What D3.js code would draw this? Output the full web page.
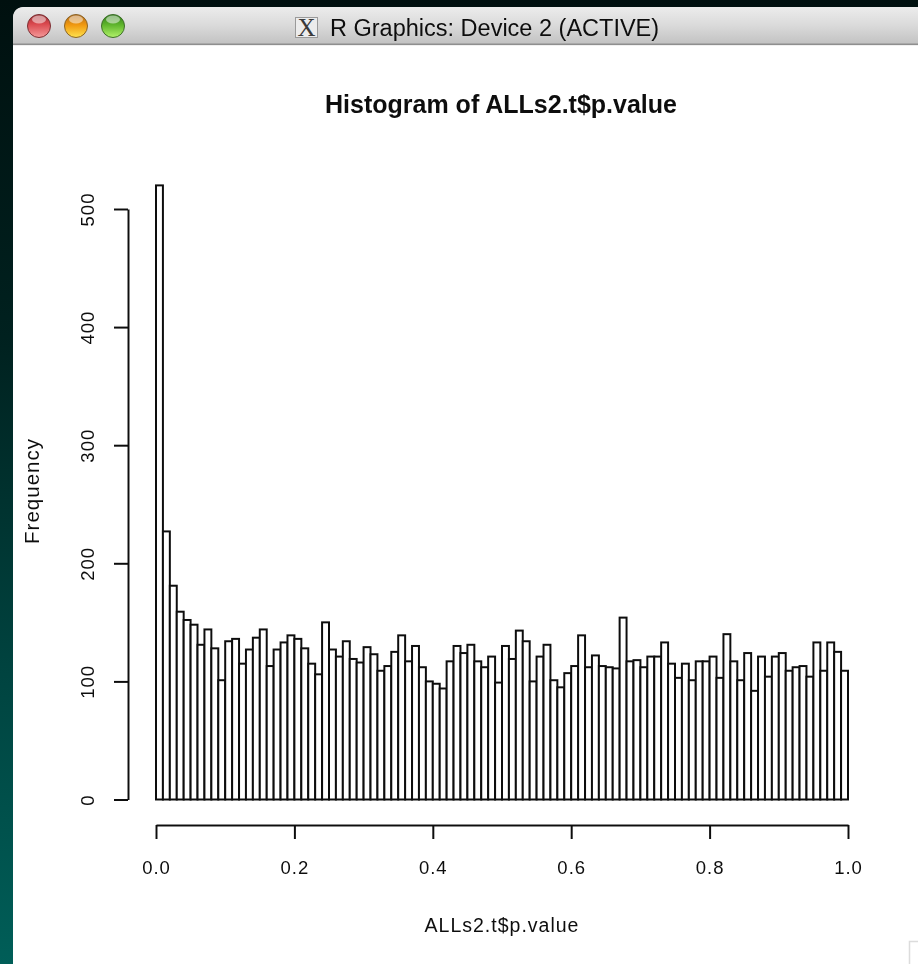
<!DOCTYPE html>
<html>
<head>
<meta charset="utf-8">
<script src="https://cdn.jsdelivr.net/npm/d3@7"></script>
<style>
  html, body { margin: 0; padding: 0; background: #00100f; overflow: hidden; }
  svg { display: block; }
  text { font-family: "Liberation Sans", sans-serif; fill: #111111; }
</style>
</head>
<body>
<div id="my_dataviz"></div>
<script>
// counts per 0.01 wide bin
var counts = [
  520, 227, 181, 159, 152, 148, 131, 144, 128, 101,
  134, 136, 115, 127, 137, 144, 113, 127, 133, 139,
  136, 128, 115, 106, 150, 127, 121, 134, 119, 116,
  129, 123, 109, 113, 125, 139, 117, 130, 112, 100,
  98, 94, 117, 130, 124, 131, 117, 112, 121, 99,
  130, 119, 143, 134, 100, 121, 131, 101, 95, 107,
  113, 139, 112, 122, 113, 112, 111, 154, 117, 118,
  112, 121, 121, 133, 115, 103, 115, 101, 117, 117,
  121, 103, 140, 117, 101, 124, 92, 121, 104, 121,
  124, 109, 112, 113, 104, 133, 109, 133, 125, 109
];
var binWidth = 0.01;
var xTicks = [0, 0.2, 0.4, 0.6, 0.8, 1];
var yTicks = [0, 100, 200, 300, 400, 500];

var chartTitle = "Histogram of ALLs2.t$p.value";
var xTitle = "ALLs2.t$p.value";
var yTitle = "Frequency";
var windowTitle = "R Graphics: Device 2 (ACTIVE)";

var width = 918, height = 964;

var svg = d3.select("#my_dataviz")
  .append("svg")
  .attr("width", width)
  .attr("height", height);

var defs = svg.append("defs");

function gradient(id, stops) {
  var g = defs.append("linearGradient")
    .attr("id", id)
    .attr("x1", 0).attr("y1", 0)
    .attr("x2", 0).attr("y2", 1);
  stops.forEach(function(s) {
    g.append("stop").attr("offset", s[0]).attr("stop-color", s[1]);
  });
}
gradient("desktop", [[0, "#00100f"], [0.35, "#00211f"], [0.7, "#004440"], [1, "#005e58"]]);
gradient("titlebar", [[0, "#ececec"], [0.5, "#dadada"], [1, "#c2c2c2"]]);
gradient("red", [[0, "#9c2f33"], [0.4, "#d9474d"], [1, "#f59a9a"]]);
gradient("orange", [[0, "#b06a1c"], [0.45, "#f0980f"], [1, "#ffe34f"]]);
gradient("green", [[0, "#2f7a1c"], [0.45, "#5fb52c"], [1, "#b2f36a"]]);

var soft = defs.append("filter").attr("id", "soft");
soft.append("feGaussianBlur").attr("stdDeviation", 0.45);

// desktop and window
svg.append("rect").attr("width", width).attr("height", height).attr("fill", "url(#desktop)");
svg.append("path")
  .attr("d", "M13,964 V19 Q13,7 25,7 H918 V964 Z")
  .attr("fill", "#ffffff");
svg.append("path")
  .attr("d", "M13,44 V19 Q13,7 25,7 H918 V44 Z")
  .attr("fill", "url(#titlebar)");
svg.append("rect").attr("x", 13).attr("y", 43.5).attr("width", 905).attr("height", 1.5).attr("fill", "#8f8f8f");
svg.append("rect").attr("x", 13).attr("y", 45).attr("width", 905).attr("height", 1).attr("fill", "#f0f0f0");

var lights = [["red", 39, "#7a3034"], ["orange", 76, "#8a6428"], ["green", 113, "#3f6e2c"]];
lights.forEach(function(l) {
  svg.append("circle")
    .attr("cx", l[1]).attr("cy", 26).attr("r", 11.5)
    .attr("fill", "url(#" + l[0] + ")")
    .attr("stroke", l[2]).attr("stroke-width", 1);
  svg.append("ellipse")
    .attr("cx", l[1]).attr("cy", 19.5).attr("rx", 7).attr("ry", 4)
    .attr("fill", "#ffffff").attr("opacity", 0.5);
});

// X11 proxy icon
svg.append("rect")
  .attr("x", 295.5).attr("y", 17.5).attr("width", 22).attr("height", 20)
  .attr("fill", "#ececec").attr("stroke", "#9a9a9a");
svg.append("text")
  .attr("x", 306.5).attr("y", 36)
  .attr("text-anchor", "middle")
  .style("font-family", "'Liberation Serif', serif")
  .style("font-size", "25px")
  .style("fill", "#3a3a3a")
  .text("X");
svg.append("text")
  .attr("x", 330).attr("y", 35.5)
  .attr("filter", "url(#soft)")
  .style("font-size", "23.5px")
  .text(windowTitle);

// resize grip corner, bottom right
svg.append("path")
  .attr("d", "M909.5,964 V941.5 H918")
  .attr("fill", "none")
  .attr("stroke", "#dcdcdc")
  .attr("stroke-width", 1.5);

// plot
var x = d3.scaleLinear().domain([0, 1]).range([156, 848]);
var y = d3.scaleLinear().domain([0, 500]).range([799.5, 209]);

var plot = svg.append("g").attr("filter", "url(#soft)");

plot.selectAll("rect.bar")
  .data(counts)
  .enter()
  .append("rect")
  .attr("class", "bar")
  .attr("x", function(d, i) { return x(i * binWidth); })
  .attr("y", function(d) { return y(d); })
  .attr("width", function(d, i) { return x((i + 1) * binWidth) - x(i * binWidth); })
  .attr("height", function(d) { return y(0) - y(d); })
  .attr("fill", "#ffffff")
  .attr("stroke", "#111111")
  .attr("stroke-width", 2);

var xAxis = plot.append("g")
  .attr("transform", "translate(0,825)")
  .call(d3.axisBottom(x)
    .tickValues(xTicks)
    .tickSize(14)
    .tickSizeOuter(0)
    .tickPadding(22)
    .tickFormat(d3.format(".1f")));

var yAxis = plot.append("g")
  .attr("transform", "translate(128,0)")
  .call(d3.axisLeft(y)
    .tickValues(yTicks)
    .tickSize(14)
    .tickSizeOuter(0)
    .tickFormat(d3.format("d")));

[xAxis, yAxis].forEach(function(a) {
  a.selectAll("path, line").attr("stroke", "#111111").attr("stroke-width", 2);
  a.selectAll("text")
    .style("font-family", "'Liberation Sans', sans-serif")
    .style("font-size", "18.5px")
    .style("letter-spacing", "1px")
    .attr("fill", "#111111");
});

// rotate y labels like R does
yAxis.selectAll("text")
  .attr("x", null).attr("dy", null)
  .attr("text-anchor", "middle")
  .attr("transform", "translate(-34,0) rotate(-90)");

plot.append("text")
  .attr("x", 501).attr("y", 113)
  .attr("text-anchor", "middle")
  .style("font-size", "25px")
  .style("font-weight", "bold")
  .text(chartTitle);

plot.append("text")
  .attr("x", 502).attr("y", 932)
  .attr("text-anchor", "middle")
  .style("font-size", "19.5px")
  .style("letter-spacing", "1px")
  .text(xTitle);

plot.append("text")
  .attr("transform", "translate(39,491) rotate(-90)")
  .attr("text-anchor", "middle")
  .style("font-size", "20.5px")
  .style("letter-spacing", "1px")
  .text(yTitle);
</script>
</body>
</html>
